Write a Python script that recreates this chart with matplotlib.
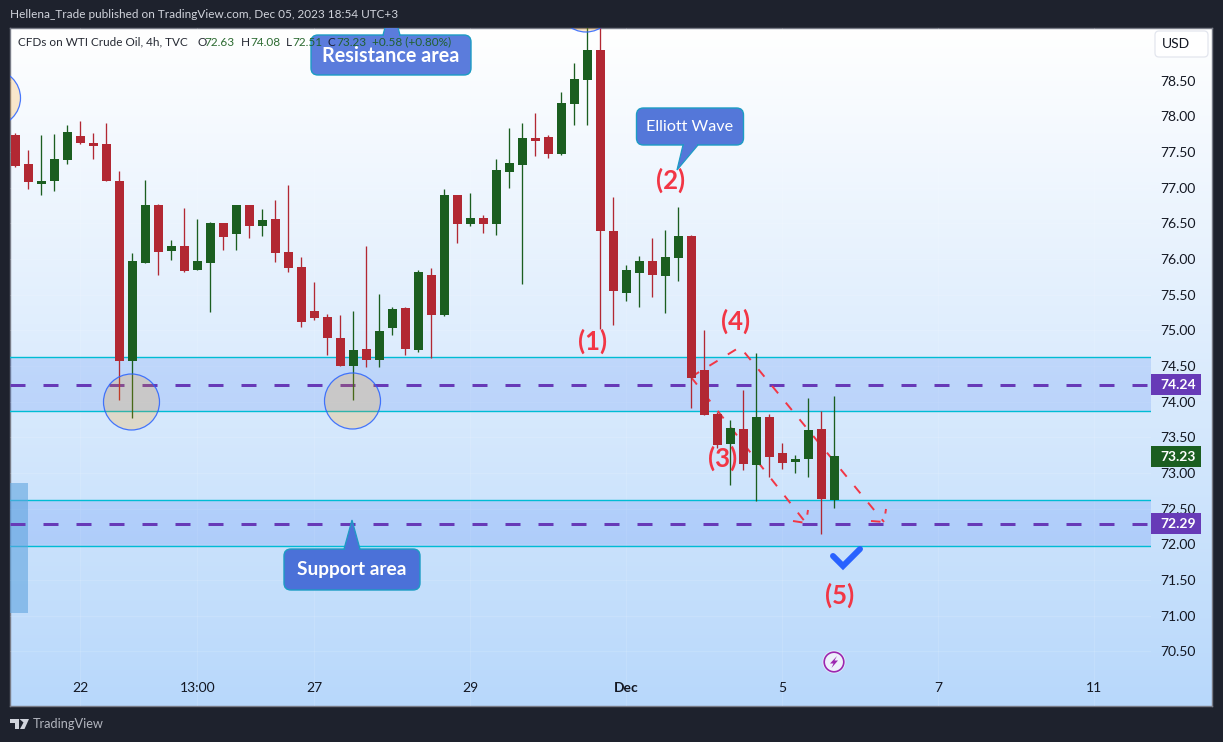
import numpy as np
import matplotlib
matplotlib.use("Agg")
import matplotlib.pyplot as plt
from matplotlib.patches import Polygon, Circle, FancyBboxPatch, Rectangle
from matplotlib.transforms import Affine2D

# ---------- data ----------
highs = [77.77,77.53,77.74,77.75,77.88,77.94,77.77,77.91,77.23,76.08,77.11,76.77,76.27,76.72,76.56,76.52,
         76.51,76.76,76.76,76.70,76.83,77.04,76.03,75.68,75.23,75.22,75.27,76.18,75.51,75.33,75.33,75.85,
         75.87,76.98,76.90,76.93,76.62,77.40,77.84,77.91,78.05,77.74,78.34,78.75,79.40,79.40,76.87,75.92,
         76.04,76.30,76.41,76.73,76.34,75.00,73.85,73.74,74.16,74.68,73.83,73.42,73.25,74.05,73.87,74.08]
lows = [77.29,76.98,76.90,76.95,77.33,77.61,77.40,77.09,74.02,73.77,75.94,75.78,75.99,75.82,75.85,75.26,
        76.13,76.13,76.30,76.32,75.96,75.82,75.05,75.15,74.65,74.50,74.02,74.49,74.49,74.93,74.65,74.70,
        74.61,75.20,76.22,76.46,76.36,76.34,77.00,75.65,77.45,77.42,77.46,77.88,77.88,75.02,75.08,75.41,
        75.33,75.47,75.24,75.69,73.91,73.81,73.35,72.83,73.04,72.61,72.94,73.06,73.00,72.94,72.14,72.51]
body_tops = [77.74,77.33,77.09,77.40,77.78,77.73,77.63,77.61,77.09,75.97,76.76,76.76,76.18,76.18,75.97,76.51,
             76.51,76.76,76.76,76.55,76.56,76.10,75.89,75.27,75.19,74.89,74.72,74.74,74.99,75.30,75.31,75.82,
             75.78,76.90,76.90,76.58,76.58,77.25,77.35,77.70,77.70,77.71,78.19,78.53,78.93,78.93,76.39,75.85,
             75.97,75.97,76.03,76.32,76.32,74.44,73.83,73.63,73.62,73.78,73.78,73.28,73.20,73.60,73.62,73.24]
body_bottoms = [77.30,77.08,77.05,77.09,77.39,77.63,77.59,77.09,74.57,74.57,75.94,76.10,76.11,75.83,75.85,75.94,
                76.31,76.35,76.46,76.46,76.08,75.87,75.12,75.17,74.89,74.50,74.50,74.58,74.58,75.03,74.74,74.72,
                75.22,75.22,76.49,76.49,76.49,76.49,77.22,77.32,77.66,77.47,77.47,78.17,78.51,76.39,75.55,75.52,
                75.80,75.78,75.76,76.01,74.33,73.81,73.39,73.41,73.13,73.11,73.22,73.14,73.15,73.20,72.64,72.62]
is_up = [0,0,1,1,1,0,0,0,0,1,1,0,1,0,1,1,
         0,1,0,1,0,0,0,0,0,0,1,0,1,1,0,1,
         0,1,0,1,0,1,1,1,0,0,1,1,1,0,0,1,
         1,0,1,1,0,0,0,1,0,1,0,0,1,1,0,1]

price_ticks = [70.5,71.0,71.5,72.0,72.5,73.0,73.5,74.0,74.5,75.0,75.5,76.0,76.5,77.0,77.5,78.0,78.5]
time_tick_bars = [5,14,23,35,47,59,71,83]
time_tick_labels = ["22","13:00","27","29","Dec","5","7","11"]
resistance_zone = (73.87, 74.63)
support_zone = (71.98, 72.62)
resistance_mid = 74.24
support_mid = 72.29
last_close = 73.23

BG = "#1e222d"
RED = "#b22833"
GREEN = "#1b5e20"
CYAN = "#00bcd4"
PURPLE = "#673ab7"
WAVE = "#f23645"
FONT = "Lato"
W, H = 1223, 742
plt.rcParams["font.family"] = [FONT, "DejaVu Sans"]

fig = plt.figure(figsize=(W/100, H/100), dpi=100, facecolor=BG)

def rect(l, t, r, b):
    return [l/W, 1-b/H, (r-l)/W, (b-t)/H]

# pixel overlay transform for annotation furniture
PX = Affine2D().scale(1, -1).translate(0, H)

# ---------- gradient panel ----------
P_L, P_T, P_R, P_B = 10, 28, 1212, 706
bg = fig.add_axes(rect(P_L, P_T, P_R, P_B), zorder=0)
grad = np.linspace(0, 1, 256)[:, None, None]
top = np.array([1.0, 1.0, 1.0])
bot = np.array([184, 216, 251])/255
bg.imshow(top*(1-grad)+bot*grad, aspect="auto", extent=(0, 1, 0, 1))
bg.set_xticks([]); bg.set_yticks([])
for s in bg.spines.values():
    s.set_color("#787b86"); s.set_linewidth(1)

# ---------- main axes ----------
ZONE_R = 1151
ax = fig.add_axes(rect(P_L, P_T, ZONE_R, P_B), zorder=1)
ax.patch.set_alpha(0)
X0, DX = 15.33, 13.0
ax.set_xlim((P_L-X0)/DX, (ZONE_R-X0)/DX)
price = lambda y: 79.633 - y/71.3
ax.set_ylim(price(P_B), price(P_T))
for s in ax.spines.values():
    s.set_visible(False)

ax.yaxis.tick_right()
ax.set_yticks(price_ticks, [f"{t:.2f}" for t in price_ticks])
ax.tick_params(axis="y", length=0, pad=6.5, labelsize=10, labelcolor="#131722")
ax.set_xticks(time_tick_bars, time_tick_labels)
ax.tick_params(axis="x", length=0, pad=-17.2, labelsize=10, labelcolor="#131722")
for lbl in ax.get_xticklabels():
    if lbl.get_text() == "Dec":
        lbl.set_fontweight("bold")
ax.grid(True, color="white", alpha=0.12, lw=0.7)
ax.set_axisbelow(True)

# zones
for lo, hi in (resistance_zone, support_zone):
    ax.axhspan(lo, hi, color="#2a6af0", alpha=0.16, lw=0, zorder=1)
    ax.axhline(lo, color=CYAN, lw=1.0, zorder=1.2)
    ax.axhline(hi, color=CYAN, lw=1.0, zorder=1.2)
for mid in (resistance_mid, support_mid):
    ax.axhline(mid, color=PURPLE, lw=2.16, dashes=(5, 6), dash_capstyle="butt", zorder=1.4)

# left time-range block
ax.add_patch(Rectangle(((P_L-X0)/DX, price(613)), (28-P_L)/DX, price(483)-price(613),
                       color="#61a5df", alpha=0.6, lw=0, zorder=1.3))

# wave pattern (behind candles)
wave_kw = dict(color=WAVE, lw=1.4, dashes=(4.9, 6.2), dash_capstyle="butt", transform=PX, zorder=1.8)
ax.plot([691, 740, 884], [377, 347, 522], **wave_kw)
ax.plot([691, 806], [377, 523], **wave_kw)
ax.plot([793, 806, 808], [521, 523, 510], **wave_kw)
ax.plot([871, 884, 886], [521, 522, 509], **wave_kw)

# candles
bars = np.arange(len(highs))
colors = [GREEN if u else RED for u in is_up]
ax.vlines(bars, lows, highs, colors=colors, lw=0.95, zorder=2)
ax.bar(bars, np.array(body_tops)-np.array(body_bottoms), bottom=body_bottoms,
       width=9/13, color=colors, lw=0, zorder=2.1)

# panel clip
clip = Rectangle((P_L, P_T), P_R-P_L, P_B-P_T, transform=PX)

# circles
for cx, cy in [(131.5, 402), (352.5, 401), (-7.5, 98), (586, 4)]:
    c = Circle((cx, cy), 28, transform=PX, facecolor="#ff9800", alpha=0.2, lw=0, zorder=3)
    e = Circle((cx, cy), 28, transform=PX, fill=False, edgecolor="#2962ff", lw=0.9, alpha=0.85, zorder=3.1)
    for p in (c, e):
        ax.add_patch(p); p.set_clip_path(clip)

# callouts
def callout(l, t, r, b, tail, text, fs, face, weight="normal"):
    box = FancyBboxPatch((l+7, t+7), r-l-14, b-t-14, boxstyle="round,pad=7,rounding_size=7",
                         transform=PX, facecolor=face, edgecolor="#1c9cc4", lw=1, zorder=4)
    ax.add_patch(box); box.set_clip_path(clip)
    pol = Polygon(tail, closed=True, transform=PX, facecolor=face, edgecolor="#1c9cc4", lw=0.9, zorder=4.1)
    ax.add_patch(pol); pol.set_clip_path(clip)
    # hide the seam between tail and box
    xs = [tail[0][0]+0.8, tail[-1][0]-0.8]
    ax.plot(xs, [tail[0][1]]*2, color=face, lw=1.6, transform=PX, zorder=4.2, solid_capstyle="butt")
    ax.text((l+r)/2, (t+b)/2+0.5, text, transform=PX, color="white", ha="center", va="center",
            fontsize=fs, fontweight=weight, zorder=4.3)

callout(311, 35, 471, 75, [(383, 35), (387, 20), (396, 20), (400, 35)], "Resistance area", 14.2, "#5b7cdc", "bold")
callout(636.5, 108, 743.5, 145, [(683, 145), (677, 170), (698, 145)], "Elliott Wave", 11.6, "#5477d9")
callout(284, 549, 420, 590, [(344, 549), (352, 520), (360, 549)], "Support area", 13.8, "#4b71d8", "bold")

# wave labels
for txt, x, y in [("(1)", 593, 341), ("(2)", 671, 180), ("(3)", 723, 458), ("(4)", 736, 321), ("(5)", 840, 595)]:
    ax.text(x, y, txt, transform=PX, color=WAVE, fontsize=18.5, fontweight="bold", ha="center", va="center", zorder=5)

# check mark
ax.plot([833, 843, 860], [556, 566, 549], transform=PX, color="#2962ff", lw=4.3,
        solid_capstyle="round", solid_joinstyle="miter", zorder=5)

# lightning badge
ax.add_patch(Circle((834, 662), 11.5, transform=PX, facecolor="white", lw=0, alpha=0.55, zorder=5))
ax.add_patch(Circle((834, 662), 9.8, transform=PX, facecolor="#eef0fb", edgecolor="#9c27b0", lw=1.2, zorder=5.1))
ax.add_patch(Polygon([(837, 656), (830, 663.5), (833.5, 663.5), (831.5, 668), (838, 660.5), (834.5, 660.5)],
                     closed=True, transform=PX, facecolor="#9c27b0", lw=0, zorder=5.2))

# price badges
def badge(val, color):
    y = (79.633-val)*71.3
    ax.add_patch(Rectangle((1151, y-10.5), 50, 21, transform=PX, facecolor=color, lw=0, zorder=6, clip_on=False))
    ax.text(1178, y+0.2, f"{val:.2f}", transform=PX, color="white", fontsize=10, fontweight="bold",
            ha="center", va="center", zorder=6.1, clip_on=False)
badge(resistance_mid, PURPLE)
badge(last_close, GREEN)
badge(support_mid, PURPLE)

# USD button
ax.add_patch(FancyBboxPatch((1159, 35), 45, 18, boxstyle="round,pad=4,rounding_size=4", transform=PX,
                            facecolor="white", edgecolor="#e3e6ee", lw=0.9, zorder=6, clip_on=False))
ax.text(1176, 44, "USD", transform=PX, color="#131722", fontsize=10, ha="center", va="center", zorder=6.1, clip_on=False)

# legend line
LEG = "#131722"; VAL = "#1b5e20"
legend_bits = [(18, "CFDs on WTI Crude Oil, 4h, TVC", LEG), (197, "O", LEG), (204, "72.63", VAL), (241, "H", LEG),
               (250, "74.08", VAL), (286, "L", LEG), (292, "72.51", VAL), (328, "C", LEG), (336, "73.23", VAL),
               (372, "+0.58 (+0.80%)", VAL)]
for x, s, col in legend_bits:
    ax.text(x, 42, s, transform=PX, color=col, fontsize=8.45, ha="left", va="center", zorder=7, clip_on=False, alpha=0.92)

# frame texts
fig.text(10/W, 1-14.5/H, "Hellena_Trade published on TradingView.com, Dec 05, 2023 18:54 UTC+3",
         color="#d1d4dc", fontsize=8.45, ha="left", va="center")
fig.text(33/W, 1-724.5/H, "TradingView", color="#b2b5be", fontsize=9.2, ha="left", va="center")
logo_col = "#d1d4dc"
for pts in ([(10, 719), (19, 719), (19, 729), (15, 729), (15, 723), (10, 723)],
            [(19.5, 719), (29, 719), (24.5, 729), (20, 729), (23.5, 722.5)]):
    fig.add_artist(Polygon(pts, closed=True, transform=PX, facecolor=logo_col, lw=0))

fig.savefig("out.png", dpi=100, facecolor=BG)
